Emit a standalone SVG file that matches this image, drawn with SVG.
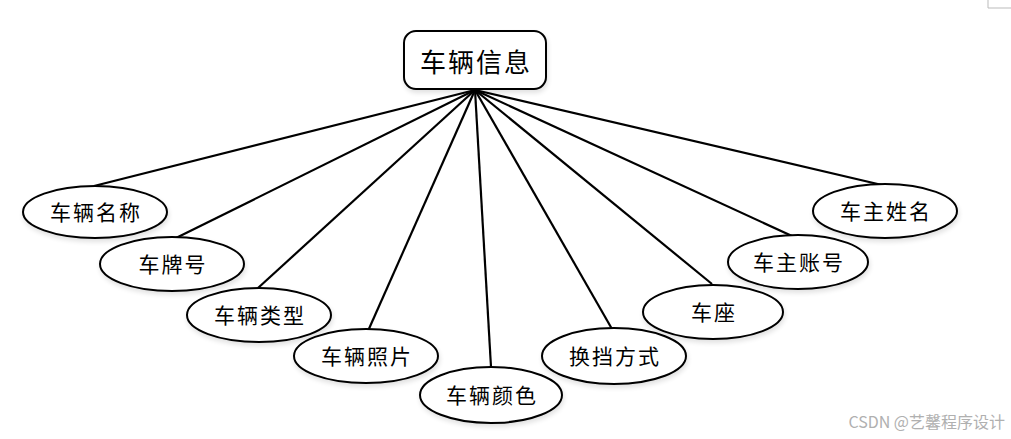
<svg xmlns="http://www.w3.org/2000/svg" width="1011" height="439" viewBox="0 0 1011 439">
<style>
.e{fill:#fff;stroke:#000;stroke-width:2}
.t{font-family:"Noto Sans CJK SC","Noto Sans CJK JP",sans-serif;font-size:21px;letter-spacing:2px;fill:#000;text-anchor:middle;dominant-baseline:central}
.c line{stroke:#000;stroke-width:2.2}
</style>
<defs>
<filter id="sh" x="-20%" y="-20%" width="140%" height="150%">
<feGaussianBlur in="SourceAlpha" stdDeviation="2.5"/>
<feOffset dx="1" dy="3"/>
<feComponentTransfer><feFuncA type="linear" slope="0.12"/></feComponentTransfer>
<feMerge><feMergeNode/><feMergeNode in="SourceGraphic"/></feMerge>
</filter>
</defs>
<rect width="1011" height="439" fill="#fff"/>
<path d="M988 0V8H1011" fill="none" stroke="#bbb" stroke-width="1"/>
<g class="c" id="connectors">
<line x1="475" y1="90" x2="94" y2="186"/>
<line x1="475" y1="90" x2="176" y2="238"/>
<line x1="475" y1="90" x2="258" y2="288"/>
<line x1="475" y1="90" x2="368" y2="331"/>
<line x1="475" y1="90" x2="491" y2="367"/>
<line x1="475" y1="90" x2="612" y2="329"/>
<line x1="475" y1="90" x2="712" y2="284"/>
<line x1="475" y1="90" x2="792" y2="236"/>
<line x1="475" y1="90" x2="882" y2="185"/>
</g>
<g id="root">
<rect x="404" y="31" width="142" height="58" rx="12" class="e" filter="url(#sh)"/>
<text x="476" y="60" class="t" style="font-size:26px">车辆信息</text>
</g>
<g id="n1"><ellipse cx="95" cy="212" rx="72" ry="26" class="e" filter="url(#sh)"/><text x="96" y="211" class="t">车辆名称</text></g>
<g id="n2"><ellipse cx="172" cy="264" rx="72" ry="27" class="e" filter="url(#sh)"/><text x="173" y="263" class="t">车牌号</text></g>
<g id="n3"><ellipse cx="259" cy="315" rx="72" ry="27" class="e" filter="url(#sh)"/><text x="260" y="314" class="t">车辆类型</text></g>
<g id="n4"><ellipse cx="366" cy="356" rx="72" ry="27" class="e" filter="url(#sh)"/><text x="367" y="355" class="t">车辆照片</text></g>
<g id="n5"><ellipse cx="491" cy="395" rx="71" ry="28" class="e" filter="url(#sh)"/><text x="492" y="394" class="t">车辆颜色</text></g>
<g id="n6"><ellipse cx="614" cy="356" rx="72" ry="28" class="e" filter="url(#sh)"/><text x="615" y="355" class="t">换挡方式</text></g>
<g id="n7"><ellipse cx="713" cy="312" rx="70" ry="27" class="e" filter="url(#sh)"/><text x="714" y="311" class="t">车座</text></g>
<g id="n8"><ellipse cx="798" cy="262" rx="70" ry="27" class="e" filter="url(#sh)"/><text x="799" y="261" class="t">车主账号</text></g>
<g id="n9"><ellipse cx="885" cy="211" rx="72" ry="27" class="e" filter="url(#sh)"/><text x="886" y="210" class="t">车主姓名</text></g>
<text x="1005" y="428" text-anchor="end" font-family="'Noto Sans CJK SC',sans-serif" font-size="16" fill="#b0b0b0">CSDN @艺馨程序设计</text>
</svg>
